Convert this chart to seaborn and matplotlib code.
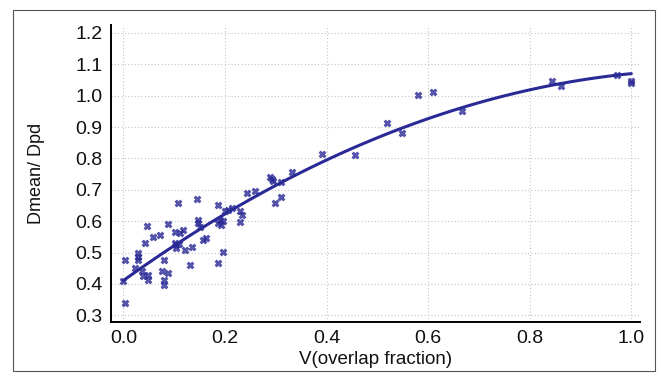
import numpy as np
import pandas as pd
import matplotlib
matplotlib.use("Agg")
import matplotlib.pyplot as plt
from matplotlib.patches import Rectangle
from matplotlib.ticker import MultipleLocator
import seaborn as sns

overlap = [0.003, 0.003, 0.0, 0.023, 0.029, 0.029, 0.029, 0.036, 0.039, 0.049, 0.049,
           0.042, 0.046, 0.058, 0.072, 0.079, 0.075, 0.088, 0.079, 0.079, 0.088,
           0.107, 0.101, 0.112, 0.118, 0.101, 0.104, 0.110, 0.104, 0.121, 0.134,
           0.131, 0.144, 0.147, 0.147, 0.151, 0.157, 0.163, 0.187, 0.190, 0.187,
           0.193, 0.195, 0.187, 0.195, 0.200, 0.206, 0.213, 0.230, 0.233, 0.230,
           0.243, 0.259, 0.298, 0.311, 0.288, 0.292, 0.295, 0.311, 0.331, 0.390,
           0.456, 0.518, 0.548, 0.580, 0.610, 0.666, 0.843, 0.861, 0.971, 1.0, 1.0]
dmean_dpd = [0.477, 0.339, 0.410, 0.450, 0.498, 0.487, 0.477, 0.440, 0.424, 0.429, 0.413,
             0.530, 0.585, 0.551, 0.556, 0.475, 0.440, 0.434, 0.413, 0.397, 0.591,
             0.659, 0.567, 0.562, 0.572, 0.530, 0.524, 0.527, 0.514, 0.509, 0.519,
             0.461, 0.670, 0.604, 0.594, 0.583, 0.540, 0.548, 0.652, 0.604, 0.594,
             0.589, 0.600, 0.468, 0.503, 0.631, 0.636, 0.641, 0.632, 0.620, 0.599,
             0.689, 0.697, 0.659, 0.678, 0.742, 0.734, 0.728, 0.724, 0.756, 0.814,
             0.811, 0.914, 0.880, 1.002, 1.013, 0.952, 1.048, 1.031, 1.066, 1.048, 1.040]

x_ticks = [0.0, 0.2, 0.4, 0.6, 0.8, 1.0]
y_ticks = [0.3, 0.4, 0.5, 0.6, 0.7, 0.8, 0.9, 1.0, 1.1, 1.2]

df = pd.DataFrame({"V": overlap, "D": dmean_dpd})

sns.set_style("white")
plt.rcParams["font.family"] = ["Liberation Sans", "DejaVu Sans"]

navy = "#2a2a96"
fig = plt.figure(figsize=(6.61, 3.81), dpi=100)
ax = fig.add_axes([0.1679, 0.1549, 0.8003, 0.7795])

sns.regplot(data=df, x="V", y="D", order=2, ci=None, ax=ax,
            marker="X", truncate=True,
            scatter_kws={"s": 26, "color": navy, "linewidths": 0.4, "edgecolors": navy, "zorder": 3},
            line_kws={"color": navy, "lw": 2.2, "zorder": 4})

ax.set_xlim(-0.0246, 1.017)
ax.set_ylim(0.279, 1.225)
ax.set_xticks(x_ticks)
ax.set_yticks(y_ticks)
ax.set_xticklabels([f"{t:.1f}" for t in x_ticks])
ax.set_yticklabels([f"{t:.1f}" for t in y_ticks])
ax.xaxis.set_minor_locator(MultipleLocator(0.1))
ax.yaxis.set_minor_locator(MultipleLocator(0.05))
ax.tick_params(axis="both", which="major", direction="in", length=9, width=1.3,
               color="black", labelsize=14, labelcolor="#111111", pad=6)
ax.tick_params(axis="both", which="minor", direction="in", length=4, width=1.0, color="black")
ax.tick_params(axis="y", which="major", length=11)

ax.grid(True, which="major", linestyle=(0, (1, 2)), color="#c4c4c4", linewidth=0.8)
ax.set_axisbelow(True)
for s in ["top", "right"]:
    ax.spines[s].set_visible(False)
for s in ["left", "bottom"]:
    ax.spines[s].set_color("black")
    ax.spines[s].set_linewidth(1.4)

ax.set_xlabel("V(overlap fraction)", fontsize=13.5, color="#111111", labelpad=3)
ax.set_ylabel("Dmean/ Dpd", fontsize=13, color="#111111", labelpad=22)

fig.patches.append(Rectangle((13 / 661, 1 - 371 / 381), (655 - 13) / 661, (371 - 10) / 381,
                             transform=fig.transFigure, fill=False,
                             edgecolor="#555555", linewidth=0.8))

fig.savefig("out.png", dpi=100)
